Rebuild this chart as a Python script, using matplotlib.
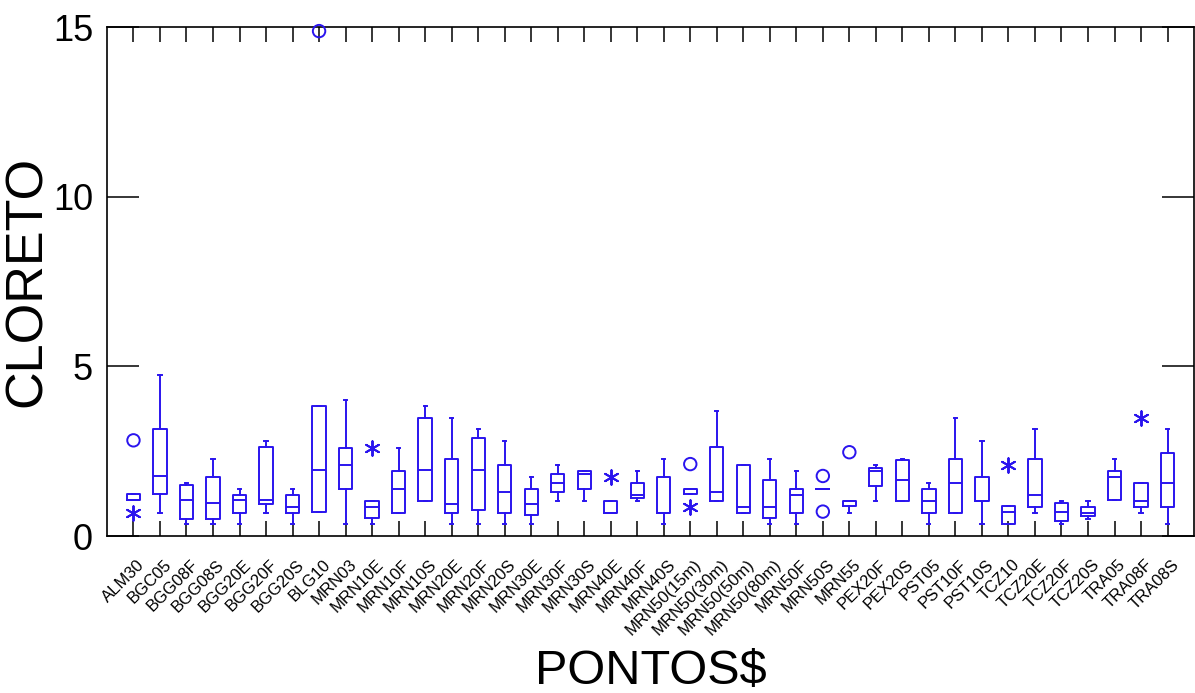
"""Box plot of CLORETO by PONTOS$ (SYSTAT style)."""
import matplotlib

matplotlib.use("Agg")
import matplotlib.pyplot as plt  # noqa: E402
from matplotlib.transforms import ScaledTranslation  # noqa: E402

labels = [
    "ALM30", "BGC05", "BGG08F", "BGG08S", "BGG20E", "BGG20F", "BGG20S", "BLG10",
    "MRN03", "MRN10E", "MRN10F", "MRN10S", "MRN20E", "MRN20F", "MRN20S", "MRN30E",
    "MRN30F", "MRN30S", "MRN40E", "MRN40F", "MRN40S", "MRN50(15m)", "MRN50(30m)",
    "MRN50(50m)", "MRN50(80m)", "MRN50F", "MRN50S", "MRN55", "PEX20F", "PEX20S",
    "PST05", "PST10F", "PST10S", "TCZ10", "TCZ20E", "TCZ20F", "TCZ20S", "TRA05",
    "TRA08F", "TRA08S",
]
whislo = [1.06, 0.69, 0.34, 0.34, 0.34, 0.69, 0.34, 0.71, 0.34, 0.34, 0.69, 1.04,
          0.34, 0.34, 0.34, 0.34, 1.04, 1.04, 0.69, 1.04, 0.34, 1.23, 1.04, 0.69,
          0.34, 0.34, 1.40, 0.69, 1.04, 1.04, 0.34, 0.69, 0.34, 0.34, 0.69, 0.34,
          0.51, 1.06, 0.69, 0.34]
q1 = [1.06, 1.23, 0.51, 0.51, 0.69, 0.95, 0.69, 0.71, 1.39, 0.52, 0.69, 1.04,
      0.69, 0.78, 0.69, 0.61, 1.30, 1.39, 0.69, 1.13, 0.69, 1.23, 1.04, 0.69,
      0.52, 0.69, 1.40, 0.88, 1.48, 1.04, 0.69, 0.69, 1.04, 0.34, 0.86, 0.45,
      0.60, 1.06, 0.86, 0.86]
med = [1.06, 1.77, 1.05, 0.96, 1.05, 1.05, 0.87, 1.94, 2.10, 0.87, 1.39, 1.94,
       0.95, 1.94, 1.30, 0.95, 1.57, 1.83, 0.69, 1.22, 0.69, 1.40, 1.31, 0.87,
       0.87, 1.22, 1.40, 1.04, 1.93, 1.65, 1.04, 1.57, 1.04, 0.70, 1.22, 0.72,
       0.69, 1.75, 1.04, 1.57]
q3 = [1.23, 3.15, 1.49, 1.75, 1.22, 2.63, 1.22, 3.84, 2.60, 1.04, 1.93, 3.49,
      2.27, 2.88, 2.10, 1.39, 1.83, 1.93, 1.04, 1.57, 1.75, 1.40, 2.63, 2.10,
      1.66, 1.39, 1.40, 1.04, 2.01, 2.25, 1.39, 2.27, 1.75, 0.88, 2.27, 0.96,
      0.86, 1.93, 1.57, 2.45]
whishi = [1.23, 4.74, 1.57, 2.27, 1.39, 2.80, 1.39, 3.84, 4.02, 1.04, 2.60, 3.84,
          3.49, 3.15, 2.80, 1.75, 2.10, 1.93, 1.04, 1.93, 2.27, 1.40, 3.67, 2.10,
          2.27, 1.93, 1.40, 1.04, 2.10, 2.27, 1.57, 3.49, 2.80, 0.88, 3.15, 1.04,
          1.04, 2.27, 1.57, 3.15]

circle_labels = ["ALM30", "BLG10", "MRN50(15m)", "MRN50S", "MRN50S", "MRN55"]
circle_values = [2.82, 14.88, 2.12, 1.77, 0.72, 2.47]
star_labels = ["ALM30", "MRN10E", "MRN40E", "MRN50(15m)", "TCZ10", "TRA08F"]
star_values = [0.69, 2.60, 1.75, 0.86, 2.08, 3.49]

BLUE = "#2a14ee"
plt.rcParams["font.family"] = ["Liberation Sans", "DejaVu Sans"]

fig = plt.figure(figsize=(11.95, 6.93), dpi=100)
ax = fig.add_axes([0.0895, 0.2265, 0.9097, 0.7345])

positions = list(range(1, len(labels) + 1))
stats = [
    {"whislo": a, "q1": b, "med": c, "q3": d, "whishi": e, "fliers": []}
    for a, b, c, d, e in zip(whislo, q1, med, q3, whishi)
]
line = {"color": BLUE, "linewidth": 1.4}
ax.bxp(
    stats,
    positions=positions,
    widths=0.5,
    capwidths=0.12,
    showfliers=False,
    boxprops=line,
    medianprops=line,
    whiskerprops=line,
    capprops=line,
    manage_ticks=False,
)

pos = {lab: i + 1 for i, lab in enumerate(labels)}
ax.scatter([pos[l] for l in circle_labels], circle_values, s=80, facecolors="none",
           edgecolors=BLUE, linewidths=1.4, zorder=3, clip_on=False)
ax.scatter([pos[l] for l in star_labels], star_values, s=110, marker=(6, 2, 0),
           color=BLUE, linewidths=1.4, zorder=3)

ax.set_xlim(0, len(labels) + 1)
ax.set_ylim(0, 15)
ax.set_yticks([0, 5, 10, 15])
ax.set_xticks(positions)
ax.tick_params(axis="x", direction="in", length=11, width=1.1, top=True,
               bottom=True, pad=19, colors="black")
ax.tick_params(axis="y", direction="in", length=23, width=1.1, left=True,
               right=True, pad=10, labelsize=26)
ax.set_xticklabels(labels, rotation=45, ha="right", va="center",
                   rotation_mode="anchor", fontsize=12)
# shift the slanted labels a little to the right, like the original
offset = ScaledTranslation(9 / 100, 0, fig.dpi_scale_trans)
for t in ax.get_xticklabels():
    t.set_transform(t.get_transform() + offset)

for sp in ax.spines.values():
    sp.set_linewidth(1.2)

ax.set_ylabel("CLORETO", fontsize=37.5)
ax.yaxis.set_label_coords(-0.051, 0.5)
ax.set_xlabel("PONTOS$", fontsize=35)
ax.xaxis.set_label_coords(0.5, -0.222)

fig.savefig("out.png", dpi=100)
